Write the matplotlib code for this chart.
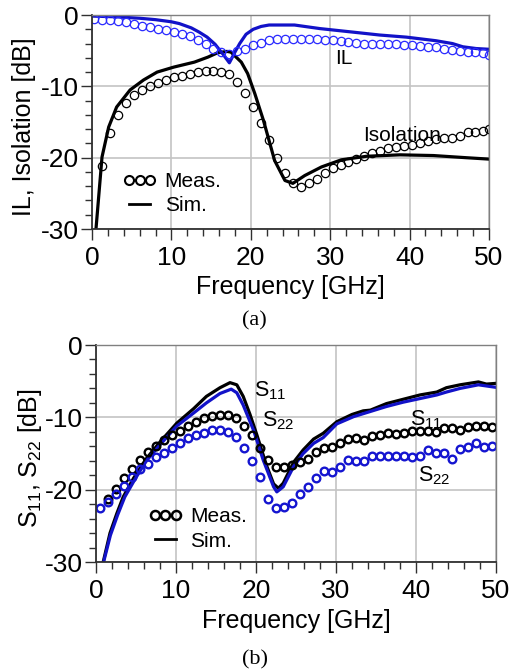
import numpy as np
import matplotlib; matplotlib.use('Agg'); import matplotlib.pyplot as plt
from matplotlib.lines import Line2D

plt.rcParams['font.family'] = ['Liberation Sans', 'DejaVu Sans']
plt.rcParams['mathtext.default'] = 'regular'
plt.rcParams['axes.unicode_minus'] = False

# ---- (a) IL / isolation ----
f_meas_a = np.r_[np.arange(0.3, 49.4, 1.0), 50.0]          # measured sweep, GHz
il_meas = [-0.55, -0.7, -0.72, -0.85, -1.0, -1.25, -1.5, -1.65, -1.9, -2.1,
           -2.4, -2.7, -2.9, -3.5, -4.1, -4.8, -5.15, -5.4, -5.0, -4.8,
           -4.25, -3.9, -3.55, -3.4, -3.3, -3.3, -3.3, -3.3, -3.4, -3.45,
           -3.5, -3.6, -3.75, -3.9, -4.0, -4.0, -4.0, -4.0, -4.05, -4.2,
           -4.2, -4.3, -4.45, -4.45, -4.8, -4.9, -5.0, -5.25, -5.25, -5.3, -5.6]
iso_meas = [np.nan, -21.1, -16.5, -13.95, -12.3, -11.2, -10.5, -10.0, -9.5, -9.1,
            -8.75, -8.5, -8.3, -7.95, -7.8, -7.8, -7.95, -8.3, -9.4, -10.9,
            -12.9, -15.1, -17.5, -20.1, -22.2, -23.6, -24.1, -23.5, -23.0, -22.2,
            -21.5, -21.0, -20.6, -20.2, -19.8, -19.4, -19.0, -18.7, -18.5, -18.4,
            -18.2, -17.9, -17.7, -17.4, -17.3, -17.2, -16.9, -16.4, -16.4, -16.2, -16.0]

f_il_sim = [0, 3, 6, 8, 10, 11, 12.5, 13.5, 14.5, 15.5, 16.5, 17.3, 18, 18.6, 19.4,
            20.3, 21.3, 22.3, 25.5, 28.7, 32.9, 36.2, 39.6, 43.3, 45.4, 46.7, 48.4, 50]
il_sim = [-0.15, -0.25, -0.45, -0.65, -0.95, -1.2, -1.8, -2.4, -3.1, -4.1, -5.5, -6.7,
          -5.2, -4.0, -2.7, -2.0, -1.6, -1.4, -1.4, -1.9, -2.4, -2.8, -3.1, -3.6,
          -4.0, -4.45, -4.7, -4.8]

f_iso_sim = [0.5, 1.26, 2.1, 3.1, 4.8, 6.5, 8.2, 10.3, 12.9, 14.6, 15.8, 17.0, 17.5,
             18.8, 19.6, 20.5, 21.6, 23.0, 24.3, 25.3, 26.8, 28.9, 31.4, 34.6, 38.8,
             43, 47.1, 50]
iso_sim = [-30, -19.9, -15.7, -12.9, -10.5, -9.1, -8.0, -7.3, -6.6, -5.9, -5.3, -5.1,
           -5.2, -6.6, -8.2, -11.0, -14.8, -20.4, -23.2, -23.6, -22.5, -21.3, -20.3,
           -19.8, -19.6, -19.7, -20.0, -20.2]

# ---- (b) S11 / S22 ----
f_meas_b = np.arange(0.5, 50.0, 1.0)
s11_meas = [np.nan, -21.3, -19.9, -18.4, -17.1, -15.9, -14.8, -14.0, -13.1, -12.4,
            -11.85, -11.2, -10.6, -10.1, -9.8, -9.7, -9.7, -10.1, -11.2, -12.5,
            -14.3, -15.9, -16.8, -16.8, -16.6, -16.2, -15.7, -14.8, -14.25, -14.1,
            -13.6, -13.05, -12.9, -13.15, -12.6, -12.4, -12.2, -12.3, -12.1, -11.85,
            -11.9, -11.9, -12.0, -11.5, -11.5, -11.75, -11.3, -11.2, -11.2, -11.3]
s22_meas = [-22.5, -21.7, -20.6, -19.5, -18.2, -17.2, -16.4, -15.5, -14.9, -14.2,
            -13.5, -12.9, -12.5, -12.1, -11.75, -11.7, -12.0, -12.7, -14.2, -16.0,
            -18.2, -21.3, -22.5, -22.4, -21.8, -20.6, -19.6, -18.4, -17.4, -17.6,
            -16.8, -15.9, -16.05, -16.05, -15.3, -15.4, -15.4, -15.4, -15.4, -15.5,
            -15.3, -14.5, -14.9, -14.9, -15.7, -14.4, -14.1, -13.6, -14.1, -14.0]

f_s11_sim = [0.9, 1.75, 2.6, 3.4, 4.7, 6.3, 8.0, 10.1, 12.2, 13.8, 15.5, 16.75, 17.6,
             18.4, 19.25, 20.1, 21.3, 22.2, 22.8, 23.4, 24.7, 25.9, 27.2, 28.4, 30.1,
             32.0, 33.4, 34.3, 36.3, 38.4, 40.5, 42.6, 43.8, 45.5, 47.8, 48.8, 50]
s11_sim = [-30, -26.0, -23.3, -21.0, -18.4, -15.7, -13.4, -10.8, -8.8, -7.1, -5.9,
           -5.2, -5.5, -7.1, -9.6, -12.4, -16.6, -19.2, -19.8, -19.1, -16.2, -14.5,
           -13.0, -12.2, -10.6, -9.6, -9.1, -9.0, -8.1, -7.5, -6.9, -6.5, -5.9, -5.5,
           -5.1, -5.4, -5.3]
f_s22_sim = [0.95, 1.8, 2.7, 3.6, 4.9, 6.3, 8.0, 10.1, 12.2, 13.8, 15.5, 16.9, 17.6,
             18.4, 19.7, 20.9, 22.2, 22.6, 23.4, 24.7, 25.9, 27.2, 28.4, 30.1, 32.2,
             34.25, 36.3, 38.4, 40.5, 42.6, 43.8, 45.5, 47.8, 50]
s22_sim = [-30, -26.3, -23.5, -21.0, -18.5, -16.0, -13.8, -11.2, -9.4, -8.0, -6.7,
           -6.1, -6.6, -8.3, -11.8, -15.9, -19.6, -20.3, -19.6, -16.8, -15.0, -13.6,
           -12.8, -10.9, -9.9, -9.2, -8.5, -7.9, -7.4, -6.9, -6.5, -6.0, -5.5, -5.85]

BLUE_LINE = '#1212c8'
TICK_FS, LAB_FS, ANN_FS = 19, 18, 15


def style(ax, ylabel, label_x):
    ax.set_xlim(0, 50); ax.set_ylim(-30, 0)
    ax.set_xticks(np.arange(0, 51, 10)); ax.set_xticks(np.arange(0, 51, 2), minor=True)
    ax.set_yticks(np.arange(-30, 1, 10)); ax.set_yticks(np.arange(-30, 1, 2), minor=True)
    ax.grid(True, which='major', color='#c4c4c4', lw=1.2)
    ax.set_axisbelow(True)
    ax.tick_params(which='major', direction='out', length=8, width=1.0, color='#303030',
                   labelsize=TICK_FS)
    ax.tick_params(which='minor', direction='out', length=5, width=1.0, color='#303030')
    ax.tick_params(axis='x', which='major', pad=4)
    ax.tick_params(axis='y', which='major', pad=1.5)
    for s in ['left', 'bottom']:
        ax.spines[s].set_color('#303030'); ax.spines[s].set_linewidth(1.3)
    for s in ['top', 'right']:
        ax.spines[s].set_color('#808080'); ax.spines[s].set_linewidth(1.0)
    ax.set_xlabel('Frequency [GHz]', fontsize=LAB_FS)
    ax.xaxis.set_label_coords(0.5, -0.215)
    ax.set_ylabel(ylabel, fontsize=LAB_FS)
    ax.yaxis.set_label_coords(label_x, 0.48)


fig = plt.figure(figsize=(5.24, 6.71), dpi=100)
ax1 = fig.add_axes([0.1756, 0.6587, 0.7576, 0.3189])
ax2 = fig.add_axes([0.1832, 0.1624, 0.7634, 0.3234])

# (a)
ax1.plot(f_iso_sim, iso_sim, color='black', lw=2.3)
ax1.plot(f_il_sim, il_sim, color=BLUE_LINE, lw=2.3)
ax1.plot(f_meas_a, iso_meas, 'o', mfc='none', mec='black', ms=6, mew=0.9)
ax1.plot(f_meas_a, il_meas, 'o', mfc='none', mec='#2a2aff', ms=6, mew=0.9)
ax1.text(30.6, -6.8, 'IL', fontsize=ANN_FS)
ax1.text(34.2, -17.65, 'Isolation', fontsize=ANN_FS)
style(ax1, 'IL, Isolation [dB]', -0.141)

# (b)
ax2.plot(f_s11_sim, s11_sim, color='black', lw=2.3)
ax2.plot(f_s22_sim, s22_sim, color=BLUE_LINE, lw=2.3)
ax2.plot(f_meas_b, s11_meas, 'o', mfc='none', mec='black', ms=5.5, mew=1.7)
ax2.plot(f_meas_b, s22_meas, 'o', mfc='none', mec='#1515d0', ms=5.5, mew=1.7)
ax2.text(19.7, -7.15, 'S$_{11}$', fontsize=15.5)
ax2.text(20.7, -11.3, 'S$_{22}$', fontsize=15.5)
ax2.text(39.3, -11.1, 'S$_{11}$', fontsize=15.5)
ax2.text(40.3, -18.9, 'S$_{22}$', fontsize=15.5)
style(ax2, 'S$_{11}$, S$_{22}$ [dB]', -0.13)

for ax, anchor, mew in [(ax1, (0.078, 0.166), 1.5), (ax2, (0.132, 0.152), 1.8)]:
    handles = [Line2D([], [], ls='none', marker='o', mfc='none', mec='black', ms=6.5, mew=mew),
               Line2D([], [], color='black', lw=2.0)]
    ax.legend(handles, ['Meas.', 'Sim.'], loc='center left', bbox_to_anchor=anchor,
              frameon=False, fontsize=ANN_FS, numpoints=3, handlelength=1.6,
              handletextpad=0.4, labelspacing=0.25, borderpad=0, borderaxespad=0)

fig.text(0.486, 0.5216, '(a)', ha='center', va='center', fontsize=16, family='Liberation Serif')
fig.text(0.487, 0.0164, '(b)', ha='center', va='center', fontsize=16, family='Liberation Serif')

fig.savefig('out.png', dpi=100)
